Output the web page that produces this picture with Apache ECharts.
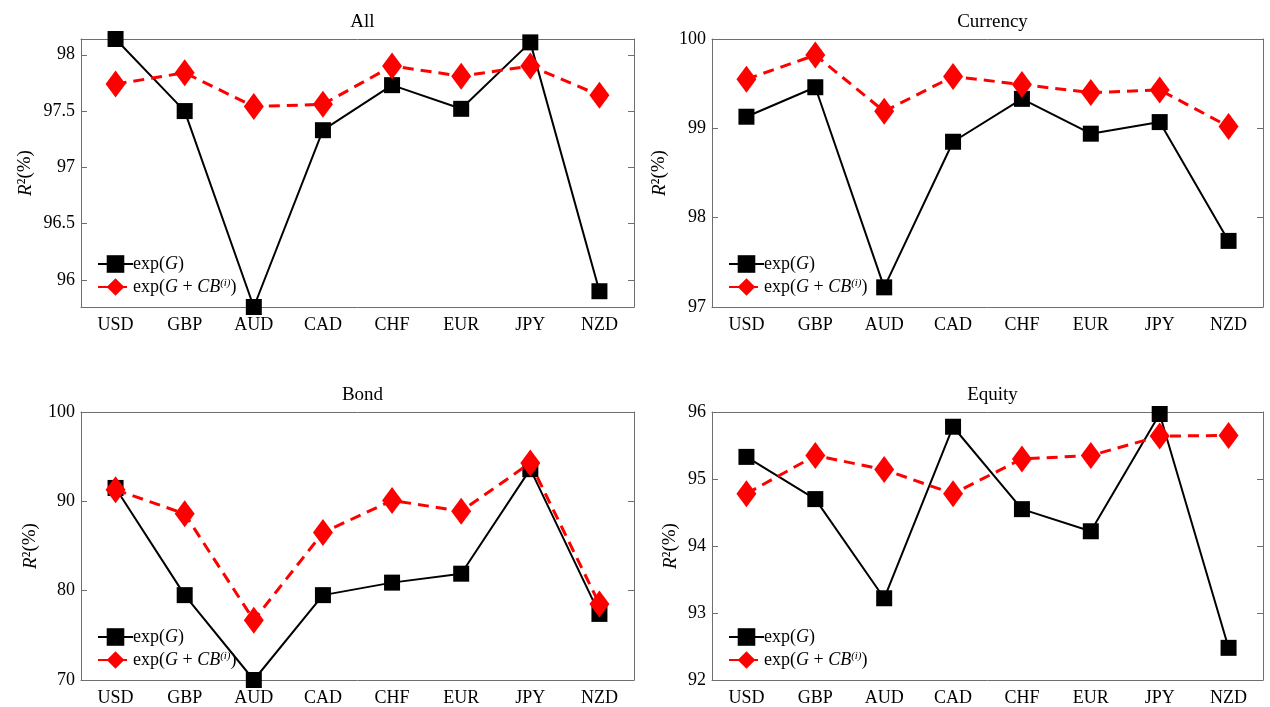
<!DOCTYPE html>
<html>
<head>
<meta charset="utf-8">
<script src="https://cdn.jsdelivr.net/npm/echarts@6/dist/echarts.min.js"></script>
<style>
  html, body { margin: 0; padding: 0; background: #fff; }
  #main { width: 1270px; height: 707px; }
</style>
</head>
<body>
<div id="main"></div>
<script>
// currencies on the x axis
var currencies = ['USD', 'GBP', 'AUD', 'CAD', 'CHF', 'EUR', 'JPY', 'NZD'];
var panelTitles = ['All', 'Currency', 'Bond', 'Equity'];

// R^2 (%) for exp(G)
var allG      = [98.14, 97.50, 95.76, 97.33, 97.73, 97.52, 98.11, 95.90];
var currencyG = [99.13, 99.46, 97.22, 98.85, 99.33, 98.94, 99.07, 97.74];
var bondG     = [91.5, 79.5, 70.0, 79.5, 80.9, 81.9, 93.6, 77.4];
var equityG   = [95.33, 94.70, 93.22, 95.78, 94.55, 94.22, 95.97, 92.48];

// R^2 (%) for exp(G + CB^(i))
var allGCB      = [97.74, 97.84, 97.54, 97.56, 97.90, 97.81, 97.90, 97.64];
var currencyGCB = [99.55, 99.82, 99.19, 99.58, 99.49, 99.40, 99.43, 99.02];
var bondGCB     = [91.3, 88.6, 76.7, 86.5, 90.1, 88.9, 94.3, 78.5];
var equityGCB   = [94.78, 95.35, 95.14, 94.78, 95.30, 95.35, 95.64, 95.65];

// y tick labels per panel
var allTicks      = [96, 96.5, 97, 97.5, 98];
var currencyTicks = [97, 98, 99, 100];
var bondTicks     = [70, 80, 90, 100];
var equityTicks   = [92, 93, 94, 95, 96];

var seriesG   = [allG, currencyG, bondG, equityG];
var seriesGCB = [allGCB, currencyGCB, bondGCB, equityGCB];
var ticks     = [allTicks, currencyTicks, bondTicks, equityTicks];

// "All" panel is tight on the data, the others use the tick range
var allVals = allG.concat(allGCB);
var yMin = [Math.min.apply(null, allVals), 97, 70, 92];
var yMax = [Math.max.apply(null, allVals), 100, 100, 96];

var nameGaps = [46, 43, 41, 32];
var FONT = 'Liberation Serif';
var AXIS_COLOR = '#6e6e6e';

var grids = [
  { left: 81,  right: 636, top: 39,  height: 268 },
  { left: 712, right: 7,   top: 39,  height: 268 },
  { left: 81,  right: 636, top: 412, height: 268 },
  { left: 712, right: 7,   top: 412, height: 268 }
];

var xAxes = [], yAxes = [], series = [], titles = [], legends = [];

for (var k = 0; k < 4; k++) {
  var g = grids[k];
  var cx = g.left + (1270 - g.left - g.right) / 2;
  titles.push({
    text: panelTitles[k], left: cx, top: g.top - 31, textAlign: 'center',
    textStyle: { fontFamily: FONT, fontSize: 19, fontWeight: 'normal', color: '#000' }
  });
  legends.push({
    left: g.left + 11, top: g.top + 211, orient: 'vertical',
    itemWidth: 35, itemHeight: 22, itemGap: 5,
    data: ['G', 'GCB'],
    formatter: function (name) {
      return name === 'G' ? 'exp({i|G})' : 'exp({i|G} + {i|CB}{s|(i)})';
    },
    textStyle: {
      fontFamily: FONT, fontSize: 18, color: '#000', padding: [0, 0, 0, -5],
      rich: {
        i: { fontFamily: FONT, fontSize: 18, fontStyle: 'italic', color: '#000' },
        s: { fontFamily: FONT, fontSize: 11, fontStyle: 'italic', color: '#000', verticalAlign: 'top' }
      }
    }
  });
}

for (var k = 0; k < 4; k++) {
  xAxes.push({
    type: 'category', gridIndex: k, data: currencies, boundaryGap: true,
    axisLine: { lineStyle: { color: AXIS_COLOR, width: 1 } },
    axisTick: { inside: true, alignWithLabel: true, length: 6, lineStyle: { color: AXIS_COLOR } },
    axisLabel: { fontFamily: FONT, fontSize: 18, color: '#000', margin: 9 },
    splitLine: { show: false }
  });
  yAxes.push({
    type: 'value', gridIndex: k, min: yMin[k], max: yMax[k],
    name: '{i|R}²(%)', nameLocation: 'middle', nameGap: nameGaps[k],
    nameTextStyle: {
      fontFamily: FONT, fontSize: 19, color: '#000',
      rich: { i: { fontFamily: FONT, fontSize: 19, fontStyle: 'italic', color: '#000' } }
    },
    axisLine: { show: true, lineStyle: { color: AXIS_COLOR, width: 1 } },
    axisTick: { show: true, inside: true, length: 6, customValues: ticks[k], lineStyle: { color: AXIS_COLOR } },
    axisLabel: { fontFamily: FONT, fontSize: 18, color: '#000', margin: 6, customValues: ticks[k] },
    splitLine: { show: false }
  });
}
// top and right axes close the box and repeat the ticks
for (var k = 0; k < 4; k++) {
  xAxes.push({
    type: 'category', gridIndex: k, position: 'top', data: currencies, boundaryGap: true,
    axisLine: { lineStyle: { color: AXIS_COLOR, width: 1 } },
    axisTick: { inside: true, alignWithLabel: true, length: 6, lineStyle: { color: AXIS_COLOR } },
    axisLabel: { show: false }, splitLine: { show: false }
  });
  yAxes.push({
    type: 'value', gridIndex: k, position: 'right', min: yMin[k], max: yMax[k],
    axisLine: { show: true, lineStyle: { color: AXIS_COLOR, width: 1 } },
    axisTick: { show: true, inside: true, length: 6, customValues: ticks[k], lineStyle: { color: AXIS_COLOR } },
    axisLabel: { show: false, customValues: ticks[k] }, splitLine: { show: false }
  });
}

for (var k = 0; k < 4; k++) {
  series.push({
    name: 'G', type: 'line', xAxisIndex: k, yAxisIndex: k, data: seriesG[k],
    symbol: 'rect', symbolSize: 16, showAllSymbol: true,
    lineStyle: { color: '#000', width: 2 },
    itemStyle: { color: '#000' },
    emphasis: { disabled: true }, animation: false, z: 2
  });
  series.push({
    name: 'GCB', type: 'line', xAxisIndex: k, yAxisIndex: k, data: seriesGCB[k],
    symbol: 'diamond', symbolSize: [20, 27], showAllSymbol: true,
    lineStyle: { color: '#ff0000', width: 3, type: [11, 7] },
    itemStyle: { color: '#ff0000' },
    emphasis: { disabled: true }, animation: false, z: 3
  });
}

var chart = echarts.init(document.getElementById('main'), null, { renderer: 'canvas' });
chart.setOption({
  backgroundColor: '#fff',
  animation: false,
  title: titles,
  legend: legends,
  grid: grids,
  xAxis: xAxes,
  yAxis: yAxes,
  series: series
});
</script>
</body>
</html>
